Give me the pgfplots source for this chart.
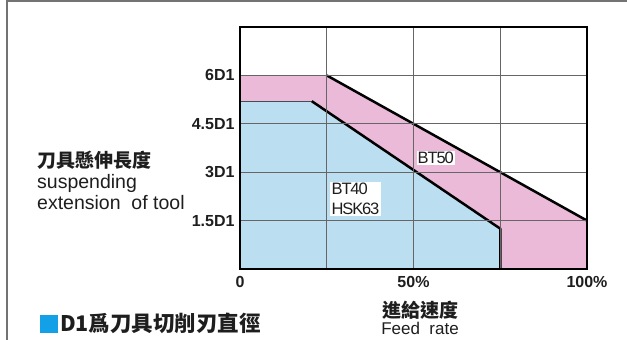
\documentclass[border=0pt]{standalone}
\usepackage{fontspec}
\setmainfont{Liberation Sans}
\newfontfamily\cjk{Noto Sans CJK TC}
\newfontfamily\lbl{Liberation Sans}[LetterSpace=-7]
\usepackage{pgfplots}
\pgfplotsset{compat=1.18}
\definecolor{pinkfill}{RGB}{234,186,216}
\definecolor{bluefill}{RGB}{187,223,241}
\definecolor{sqblue}{RGB}{20,160,230}
\definecolor{txt}{RGB}{30,30,30}

\begin{document}
\begin{tikzpicture}[x=1pt,y=1pt]
\useasboundingbox (0,0) rectangle (627,340);
\draw[black!55, line width=1.5pt] (7,0) -- (7,339) -- (627,339);
\begin{axis}[
    at={(240pt,71pt)}, anchor=south west,
    scale only axis, width=347pt, height=242pt,
    xmin=0, xmax=100, ymin=0, ymax=7.5,
    xtick={0,25,50,75,100}, xticklabels={0,,50\%,,100\%},
    ytick={1.5,3,4.5,6}, yticklabels={1.5D1,3D1,4.5D1,6D1},
    major tick length=0pt,
    grid=major,
    grid style={line width=0.8pt, black!60},
    axis line style={line width=2.5pt, black},
    axis on top,
    ticklabel style={font=\fontsize{16}{18}\selectfont\bfseries, text=txt},
    /pgf/number format/assume math mode=true,
    xticklabel style={yshift=-4pt},
    yticklabel style={xshift=-2pt},
]
% BT50 region
\addplot[fill=pinkfill, draw=none] coordinates {(0,0) (0,6) (25,6) (100,1.5) (100,0)} -- cycle;
% BT40 / HSK63 region
\addplot[fill=bluefill, draw=none] coordinates {(0,0) (0,5.2) (20.7,5.2) (75,1.25) (75,0)} -- cycle;
% outlines
\addplot[line width=1.3pt, black!65!pinkfill] coordinates {(0,6) (25,6)};
\addplot[line width=1.3pt, black!65!bluefill] coordinates {(0,5.2) (20.7,5.2)};
\addplot[line width=1pt, black!30!pinkfill] coordinates {(100,1.5) (100,0)};
\addplot[line width=2.5pt, black] coordinates {(25,6) (100,1.5)};
\addplot[line width=2.5pt, black, line join=round] coordinates {(20.7,5.2) (75,1.25) (75,0)};
\node[fill=white, inner sep=1pt, text=txt, font=\lbl\fontsize{16.5}{17}\selectfont] at (axis cs:56.4,3.44) {BT50};
\node[fill=white, inner sep=1.5pt, align=left, text=txt, font=\lbl\fontsize{16.5}{20}\selectfont] at (axis cs:33.3,2.17) {BT40\\HSK63};
\end{axis}
% axis titles
\node[anchor=base west, inner sep=0pt, text=txt, font=\cjk\bfseries\fontsize{19}{20}\selectfont] at (37,172) {刀具懸伸長度};
\node[anchor=base west, inner sep=0pt, text=txt, font=\fontsize{19.5}{20}\selectfont] at (37,151) {suspending};
\node[anchor=base west, inner sep=0pt, text=txt, font=\fontsize{19.5}{20}\selectfont] at (37,130) {extension\ \ of tool};
\node[anchor=base, inner sep=0pt, text=txt, font=\cjk\bfseries\fontsize{19}{20}\selectfont] at (420,22) {進給速度};
\node[anchor=base, inner sep=0pt, text=txt, font=\fontsize{17}{18}\selectfont] at (420,5) {Feed\ \ rate};
% note
\fill[sqblue] (40,7) rectangle (58,25);
\node[anchor=base west, inner sep=0pt, text=txt, font=\cjk\bfseries\fontsize{21.5}{22}\selectfont] at (60,8) {D1爲刀具切削刃直徑};
\end{tikzpicture}
\end{document}
